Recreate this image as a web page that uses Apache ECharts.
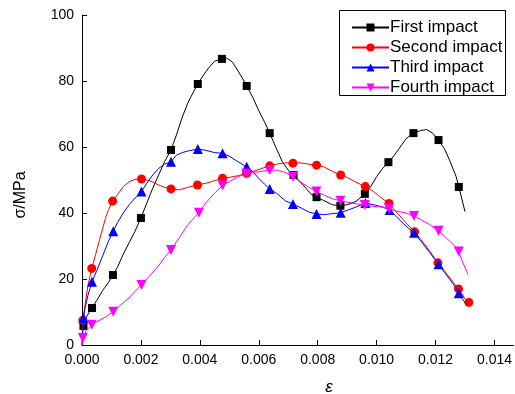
<!DOCTYPE html>
<html>
<head>
<meta charset="utf-8">
<script src="https://cdn.jsdelivr.net/npm/echarts@6/dist/echarts.min.js"></script>
<style>
  html, body { margin: 0; padding: 0; background: #fff; }
  #chart { width: 515px; height: 394px; }
</style>
</head>
<body>
<div id="chart"></div>
<script>
// Stress-strain curves of four successive impacts: [strain, stress in MPa]
const seriesNames = ['First impact', 'Second impact', 'Third impact', 'Fourth impact'];

const firstCurve = [[0.0,3],[0.00015,8.5],[0.00025,10],[0.0005,13.5],[0.0007,16.5],[0.0009,19],[0.0012,23.5],[0.0014,27.5],[0.0016,31],[0.0018,34.5],[0.0022,43],[0.0024,47.5],[0.0026,51.5],[0.0028,55.5],[0.0032,63.5],[0.0034,69],[0.0036,73.5],[0.0038,77],[0.0041,81.5],[0.0043,84],[0.0045,86],[0.0049,87],[0.0051,85.8],[0.0053,83],[0.0055,80],[0.0058,75],[0.0060,71],[0.0062,67.5],[0.0066,59.5],[0.0068,55.5],[0.0070,53],[0.0074,49.5],[0.0076,47.5],[0.0078,45.5],[0.0082,43.8],[0.0085,42.5],[0.0090,42.5],[0.0093,43.5],[0.0098,48],[0.0100,51],[0.0102,53.5],[0.0106,57.5],[0.0108,60],[0.0110,62.5],[0.0115,65],[0.0117,65.3],[0.0119,64.2],[0.0123,59.5],[0.0125,55.5],[0.0127,51],[0.0129,44],[0.0130,40.4]];
const firstMarks = [[0.00005,5.8],[0.00034,11.2],[0.00105,21.2],[0.0020,38.5],[0.00302,59.1],[0.00393,79.1],[0.00475,86.7],[0.00559,78.5],[0.00637,64.2],[0.00718,51.5],[0.00796,44.8],[0.00877,42.2],[0.0096,45.8],[0.0104,55.4],[0.01125,64.2],[0.0121,62.1],[0.01279,47.9]];

const secondCurve = [[0,0],[0.0001,12],[0.0002,18],[0.00045,27],[0.0006,32],[0.0008,38.5],[0.0009,41],[0.0012,45.5],[0.0014,48],[0.0016,49.5],[0.0018,50.2],[0.0023,49.8],[0.0026,48.5],[0.0028,47.8],[0.0033,47],[0.0036,47.8],[0.0042,49],[0.0045,49.8],[0.0050,50.8],[0.0053,51.3],[0.0058,52.6],[0.0061,53.5],[0.0066,54.8],[0.0069,55.2],[0.0074,55.2],[0.0077,54.8],[0.0082,54],[0.0085,52.6],[0.0090,50.8],[0.0093,49.3],[0.0099,46.5],[0.0101,45],[0.0106,41],[0.0110,37],[0.0115,32],[0.0118,28.5],[0.0123,22.5],[0.0126,19],[0.0129,15.5],[0.0130,14]];
const secondMarks = [[0.00003,7.5],[0.00033,23.2],[0.00104,43.6],[0.00202,50.3],[0.00302,47.3],[0.00392,48.5],[0.00477,50.5],[0.00559,52.0],[0.00637,54.3],[0.00716,55.1],[0.00796,54.5],[0.00878,51.5],[0.00962,48.0],[0.01042,42.9],[0.01129,34.3],[0.01208,24.9],[0.01278,17.0],[0.01313,12.9]];

const thirdCurve = [[0,0],[0.0001,11],[0.0002,15],[0.0005,22.5],[0.0007,27],[0.0009,31.5],[0.0012,37],[0.0014,40],[0.0016,42.5],[0.0018,44.5],[0.0022,49],[0.0024,51.5],[0.0026,53.5],[0.0028,54.8],[0.0032,57.5],[0.0034,58.3],[0.0036,58.8],[0.0042,59],[0.0045,58.3],[0.0050,57.2],[0.0053,55.5],[0.0058,52.5],[0.0060,50.5],[0.0062,48.7],[0.0066,46],[0.0069,43.7],[0.0074,41.7],[0.0077,40.3],[0.0082,39.5],[0.0085,39.8],[0.0090,40.8],[0.0093,41.8],[0.0099,42.5],[0.0102,41.8],[0.0106,39.5],[0.0110,36],[0.0115,31.5],[0.0118,28],[0.0123,22],[0.0126,18.5],[0.0129,14],[0.01304,12.5]];
const thirdMarks = [[0.00005,8.1],[0.00034,19.2],[0.00106,34.5],[0.00202,46.5],[0.00302,55.5],[0.00393,59.4],[0.00477,58.1],[0.00559,54.0],[0.00637,47.3],[0.00716,42.7],[0.00796,39.7],[0.00878,40.1],[0.00962,43.0],[0.01044,40.9],[0.01127,34.0],[0.0121,24.5],[0.01279,15.7]];

const fourthCurve = [[0,0],[0.00015,4.5],[0.0005,7],[0.0008,8.5],[0.0013,12],[0.0016,14.3],[0.0018,16.3],[0.0023,21],[0.0026,24],[0.0028,26.5],[0.0033,32.5],[0.0036,36.5],[0.0038,38.5],[0.0042,43],[0.0045,46],[0.0050,49.5],[0.0053,51],[0.0060,52.5],[0.0066,53],[0.0069,52.3],[0.0074,49.5],[0.0077,47.8],[0.0082,45.5],[0.0085,44.3],[0.0090,43.3],[0.0093,42.8],[0.0099,42],[0.0102,41.8],[0.0107,40.5],[0.0110,40],[0.0115,38],[0.0118,36.5],[0.0123,33],[0.0126,30.5],[0.0129,25.5],[0.0131,21.4]];
const fourthMarks = [[0.00003,2.1],[0.00033,6.1],[0.00106,10.1],[0.00202,18.2],[0.00302,28.8],[0.00397,40.1],[0.00477,48.3],[0.00558,52],[0.00637,53],[0.00716,51],[0.00796,46.5],[0.00877,43.7],[0.0096,42.4],[0.01042,41.4],[0.01127,39.1],[0.0121,34.6],[0.01279,28.3]];

// Axis ticks
const xTicks = [0, 0.002, 0.004, 0.006, 0.008, 0.010, 0.012, 0.014];
const yTicks = [0, 20, 40, 60, 80, 100];

// Styling per series
const styles = [
  { color: '#000000', symbol: 'rect', size: 8, rotate: 0 },
  { color: '#ff0000', symbol: 'circle', size: 9, rotate: 0 },
  { color: '#0000ff', symbol: 'triangle', size: 10, rotate: 0 },
  { color: '#ff00ff', symbol: 'triangle', size: 10, rotate: 180 }
];

// Merge curve and marker points; only marker points carry a visible symbol
function buildData(curve, marks) {
  const items = curve.map(p => ({ value: p, symbol: 'none' }))
    .concat(marks.map(p => ({ value: p })));
  items.sort((a, b) => a.value[0] - b.value[0]);
  return items;
}

const curves = [[firstCurve, firstMarks], [secondCurve, secondMarks], [thirdCurve, thirdMarks], [fourthCurve, fourthMarks]];

const series = curves.map((c, i) => ({
  name: seriesNames[i],
  type: 'line',
  data: buildData(c[0], c[1]),
  symbol: styles[i].symbol,
  symbolSize: styles[i].size,
  symbolRotate: styles[i].rotate,
  showSymbol: true,
  showAllSymbol: true,
  animation: false,
  lineStyle: { color: styles[i].color, width: 1 },
  itemStyle: { color: styles[i].color },
  emphasis: { disabled: true },
  z: 2 + i
}));

const font = '"Liberation Sans", Arial, sans-serif';

const chart = echarts.init(document.getElementById('chart'), null, { renderer: 'canvas' });
chart.setOption({
  animation: false,
  backgroundColor: '#ffffff',
  grid: { left: 82, right: 1, top: 15, bottom: 49, containLabel: false },
  xAxis: {
    type: 'value',
    min: 0,
    max: 0.014644,
    interval: 0.002,
    axisLine: { show: true, lineStyle: { color: '#000', width: 1 } },
    axisTick: { show: true, inside: true, length: 5, customValues: xTicks, lineStyle: { color: '#000' } },
    axisLabel: { customValues: xTicks, formatter: v => v.toFixed(3), color: '#000', fontSize: 14, fontFamily: font, margin: 8 },
    splitLine: { show: false }
  },
  yAxis: {
    type: 'value',
    min: 0,
    max: 100,
    interval: 20,
    axisLine: { show: true, lineStyle: { color: '#000', width: 1 } },
    axisTick: { show: true, inside: true, length: 5, customValues: yTicks, lineStyle: { color: '#000' } },
    axisLabel: { customValues: yTicks, color: '#000', fontSize: 14, fontFamily: font, margin: 8 },
    splitLine: { show: false }
  },
  legend: {
    orient: 'vertical',
    left: 351,
    top: 19,
    padding: 0,
    itemWidth: 37,
    itemHeight: 10,
    itemGap: 3,
    textStyle: { color: '#000', fontSize: 17, fontFamily: font, lineHeight: 16, padding: [0, 0, 0, -4] },
    data: seriesNames
  },
  graphic: [
    { type: 'rect', shape: { x: 339.5, y: 10.5, width: 166, height: 85 }, style: { fill: null, stroke: '#000', lineWidth: 1 }, silent: true },
    { type: 'text', x: 21, y: 195, rotation: Math.PI / 2, style: { text: 'σ/MPa', font: '16px ' + font, fill: '#000', align: 'center', verticalAlign: 'middle' } },
    { type: 'text', x: 329, y: 387, style: { text: 'ε', font: 'italic 17px ' + font, fill: '#000', align: 'center', verticalAlign: 'middle' } }
  ],
  series: series
});
</script>
</body>
</html>
